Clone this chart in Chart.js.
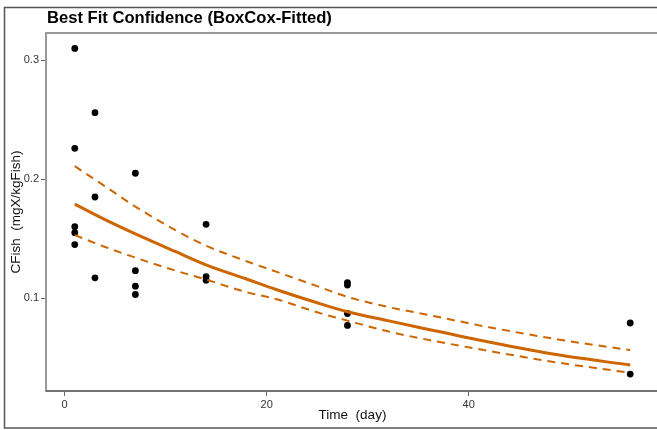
<!DOCTYPE html>
<html>
<head>
<meta charset="utf-8">
<script src="https://cdn.jsdelivr.net/npm/chart.js@4/dist/chart.umd.min.js"></script>
<style>
  html, body { margin: 0; padding: 0; background: #fff; overflow: hidden; }
  #wrap { width: 657px; height: 430px; overflow: hidden; position: relative; }
  canvas { display: block; }
</style>
</head>
<body>
<div id="wrap"><canvas id="c" width="664" height="430"></canvas></div>
<script>
// ---- data ----
const chartTitle = "Best Fit Confidence (BoxCox-Fitted)";
const xTitle = "Time  (day)";
const yTitle = "CFish  (mgX/kgFish)";
const xTickValues = [0, 20, 40];
const yTickValues = [0.1, 0.2, 0.3];

const obsDays = [1, 1, 1, 1, 1, 3, 3, 3, 7, 7, 7, 7, 14, 14, 14, 28, 28, 28, 28, 56, 56];
const obsConc = [0.310, 0.226, 0.160, 0.155, 0.145, 0.256, 0.185, 0.117, 0.205, 0.123, 0.110, 0.103,
                 0.162, 0.118, 0.115, 0.113, 0.111, 0.087, 0.077, 0.079, 0.036];

const curveDays  = [1,     4,     7,     11,    14,     18,    21,    25,    28,     32,     35,     42,     49,     56];
const fitConc    = [0.179, 0.166, 0.154, 0.139, 0.128,  0.116, 0.107, 0.096, 0.0885, 0.081,  0.0755, 0.063,  0.052,  0.0436];
const upperConc  = [0.211, 0.194, 0.177, 0.157, 0.144,  0.131, 0.122, 0.110, 0.101,  0.0925, 0.0875, 0.0755, 0.065,  0.0562];
const lowerConc  = [0.153, 0.143, 0.134, 0.123, 0.1155, 0.105, 0.099, 0.088, 0.081,  0.072,  0.0665, 0.0555, 0.0455, 0.0371];

const pts = (xs, ys) => xs.map((x, i) => ({ x: x, y: ys[i] }));

const ORANGE = '#CD6600';
const FONT = '"Liberation Sans", Arial, Helvetica, sans-serif';

const framePlugin = {
  id: 'frame',
  afterDraw(chart) {
    const ctx = chart.ctx;
    const a = chart.chartArea;
    ctx.save();
    // plot box
    ctx.strokeStyle = '#999';
    ctx.lineWidth = 2;
    ctx.strokeRect(a.left, a.top, a.right - a.left, a.bottom - a.top);
    ctx.strokeStyle = '#666';
    ctx.lineWidth = 1.5;
    ctx.beginPath();
    ctx.moveTo(a.left, a.bottom);
    ctx.lineTo(a.right + 5, a.bottom);
    ctx.stroke();
    // outer border
    ctx.strokeStyle = '#555';
    ctx.lineWidth = 1.5;
    ctx.strokeRect(4.5, 7.5, 700, 420.5);
    // title
    ctx.fillStyle = '#000';
    ctx.font = 'bold 16.6px ' + FONT;
    ctx.textAlign = 'left';
    ctx.textBaseline = 'middle';
    ctx.fillText(chartTitle, 47, 18);
    // axis titles
    ctx.font = '13.5px ' + FONT;
    ctx.fillStyle = '#111';
    ctx.textAlign = 'center';
    ctx.fillText(xTitle, (a.left + a.right) / 2, 415);
    ctx.translate(16, (a.top + a.bottom) / 2);
    ctx.rotate(-Math.PI / 2);
    ctx.fillText(yTitle, 0, 0);
    ctx.restore();
  }
};

new Chart(document.getElementById('c'), {
  type: 'scatter',
  data: {
    datasets: [
      { label: 'upper', data: pts(curveDays, upperConc), showLine: true, borderColor: ORANGE,
        borderWidth: 2, borderDash: [8, 6], pointRadius: 0, cubicInterpolationMode: 'monotone' },
      { label: 'lower', data: pts(curveDays, lowerConc), showLine: true, borderColor: ORANGE,
        borderWidth: 2, borderDash: [8, 6], pointRadius: 0, cubicInterpolationMode: 'monotone' },
      { label: 'fit', data: pts(curveDays, fitConc), showLine: true, borderColor: ORANGE,
        borderWidth: 3, pointRadius: 0, cubicInterpolationMode: 'monotone' },
      { label: 'obs', data: pts(obsDays, obsConc), showLine: false, pointRadius: 3.4,
        backgroundColor: '#000', borderColor: '#000', borderWidth: 0 }
    ]
  },
  options: {
    responsive: false,
    animation: false,
    devicePixelRatio: 1,
    layout: { padding: { top: 33, left: 0, right: 5, bottom: 0 } },
    plugins: { legend: { display: false }, tooltip: { enabled: false }, title: { display: false } },
    scales: {
      x: {
        type: 'linear', min: -1.85, max: 58.85,
        grid: { display: true, drawOnChartArea: false, drawTicks: true, tickLength: 5, color: '#666', lineWidth: 1 },
        border: { display: false },
        ticks: { font: { family: FONT, size: 11 }, color: '#333', padding: 2, maxRotation: 0 },
        afterBuildTicks: s => { s.ticks = xTickValues.map(v => ({ value: v })); },
        afterFit: s => { s.height = 39; }
      },
      y: {
        type: 'linear', min: 0.0218, max: 0.323,
        grid: { display: true, drawOnChartArea: false, drawTicks: true, tickLength: 5, color: '#666', lineWidth: 1 },
        border: { display: false },
        ticks: { font: { family: FONT, size: 11 }, color: '#333', padding: 2 },
        afterBuildTicks: s => { s.ticks = yTickValues.map(v => ({ value: v })); },
        afterFit: s => { s.width = 46; }
      }
    }
  },
  plugins: [framePlugin]
});
</script>
</body>
</html>
